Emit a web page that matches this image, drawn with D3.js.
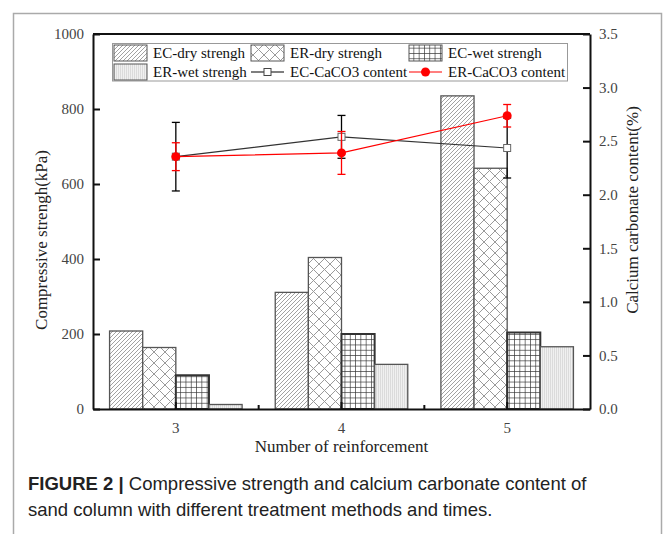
<!DOCTYPE html>
<html lang="en">
<head>
<meta charset="utf-8">
<script src="https://cdn.jsdelivr.net/npm/d3@7"></script>
<style>
  body { margin: 0; background: #fff; }
  svg { display: block; }
</style>
</head>
<body>
<script>
    // Data
    const categories = ["3", "4", "5"]
    const barSeries = ["EC-dry strengh", "ER-dry strengh", "EC-wet strengh", "ER-wet strengh"]
    const ecDry = [208, 311, 835]
    const erDry = [164, 404, 642]
    const ecWet = [90, 200, 204]
    const erWet = [12, 119, 166]
    const ecCaco3 = [2.355, 2.54, 2.436]
    const ecCaco3Err = [0.32, 0.2, 0.28]
    const erCaco3 = [2.355, 2.39, 2.737]
    const erCaco3Err = [0.13, 0.2, 0.105]
    const leftTicks = [0, 200, 400, 600, 800, 1000]
    const rightTicks = [0, 0.5, 1.0, 1.5, 2.0, 2.5, 3.0, 3.5]

    const w = 665
    const h = 534
    const plot = { left: 93, right: 590, top: 34, bottom: 409 }
    const serif = "'Liberation Serif', 'Times New Roman', serif"

    const svg = d3.select('body').append('svg')
        .attr('width', w)
        .attr('height', h)

    // patterns for the bars
    const defs = svg.append('defs')
    const diag = defs.append('pattern').attr('id', 'p-diag')
        .attr('patternUnits', 'userSpaceOnUse').attr('width', 4).attr('height', 4)
    diag.append('rect').attr('width', 4).attr('height', 4).attr('fill', '#fff')
    diag.append('path').attr('d', 'M-1,1 l2,-2 M0,4 l4,-4 M3,5 l2,-2')
        .attr('stroke', '#8a8a8a').attr('stroke-width', 0.8)

    const cross = defs.append('pattern').attr('id', 'p-cross')
        .attr('patternUnits', 'userSpaceOnUse').attr('width', 11).attr('height', 11)
    cross.append('rect').attr('width', 11).attr('height', 11).attr('fill', '#fff')
    cross.append('path').attr('d', 'M0,0 L11,11 M11,0 L0,11')
        .attr('stroke', '#9a9a9a').attr('stroke-width', 1)

    const grid = defs.append('pattern').attr('id', 'p-grid')
        .attr('patternUnits', 'userSpaceOnUse').attr('width', 5.3).attr('height', 5.3)
    grid.append('rect').attr('width', 5.3).attr('height', 5.3).attr('fill', '#fff')
    grid.append('path').attr('d', 'M0,0 V5.3 M0,0 H5.3')
        .attr('stroke', '#333').attr('stroke-width', 1.3)

    const vert = defs.append('pattern').attr('id', 'p-vert')
        .attr('patternUnits', 'userSpaceOnUse').attr('width', 2).attr('height', 2)
    vert.append('rect').attr('width', 2).attr('height', 2).attr('fill', '#f0f0f0')
    vert.append('path').attr('d', 'M0.5,0 V2')
        .attr('stroke', '#d2d2d2').attr('stroke-width', 0.7)

    const fills = ['url(#p-diag)', 'url(#p-cross)', 'url(#p-grid)', 'url(#p-vert)']
    const strokes = ['#555', '#555', '#333', '#555']
    const strokeW = [1.3, 1.3, 2, 1.3]

    // frame of the figure panel
    svg.append('path')
        .attr('d', 'M13.5,534 V13.5 H661.5 V534')
        .attr('fill', 'none').attr('stroke', '#aaa').attr('stroke-width', 1.5)

    // scales
    const x = d3.scaleBand().domain(categories).range([plot.left, plot.right])
    const xs = d3.scaleBand().domain(barSeries).range([0, x.bandwidth()]).paddingOuter(0.5)
    const yL = d3.scaleLinear().domain([0, 1000]).range([plot.bottom, plot.top])
    const yR = d3.scaleLinear().domain([0, 3.5]).range([plot.bottom, plot.top])

    // bars
    const barValues = [ecDry, erDry, ecWet, erWet]
    barSeries.forEach(function(s, si) {
        svg.append('g').selectAll('rect')
            .data(categories)
            .enter().append('rect')
            .attr('x', function(c) { return x(c) + xs(s) })
            .attr('y', function(c, i) { return yL(barValues[si][i]) })
            .attr('width', xs.bandwidth())
            .attr('height', function(c, i) { return yL(0) - yL(barValues[si][i]) })
            .attr('fill', fills[si])
            .attr('stroke', strokes[si])
            .attr('stroke-width', strokeW[si])
    })

    // axes (ticks point inward)
    const axisStyle = function(g) {
        g.selectAll('.domain').attr('stroke', '#111').attr('stroke-width', 2)
        g.selectAll('.tick line').attr('stroke', '#111').attr('stroke-width', 2)
        g.selectAll('.tick text').attr('font-family', serif).attr('font-size', 15).attr('fill', '#444')
    }

    svg.append('g')
        .attr('transform', 'translate(' + plot.left + ',0)')
        .call(d3.axisLeft(yL).tickValues(leftTicks).tickSize(-7).tickSizeOuter(0).tickPadding(9)
            .tickFormat(d3.format('d')))
        .call(axisStyle)

    svg.append('g')
        .attr('transform', 'translate(' + plot.right + ',0)')
        .call(d3.axisRight(yR).tickValues(rightTicks).tickSize(-7).tickSizeOuter(0).tickPadding(9)
            .tickFormat(d3.format('.1f')))
        .call(axisStyle)

    const xAxis = svg.append('g')
        .attr('transform', 'translate(0,' + plot.bottom + ')')
        .call(d3.axisBottom(x).tickSize(-7).tickSizeOuter(0).tickPadding(13))
        .call(axisStyle)
    // minor ticks at the band edges
    xAxis.selectAll('line.minor')
        .data(categories.slice(1))
        .enter().append('line')
        .attr('class', 'minor')
        .attr('x1', function(c) { return x(c) }).attr('x2', function(c) { return x(c) })
        .attr('y1', 0).attr('y2', -4)
        .attr('stroke', '#111').attr('stroke-width', 2)

    // top border of the plot
    svg.append('line')
        .attr('x1', plot.left).attr('x2', plot.right)
        .attr('y1', plot.top).attr('y2', plot.top)
        .attr('stroke', '#111').attr('stroke-width', 2)

    // CaCO3 lines with error bars
    const cx = function(c) { return x(c) + x.bandwidth() / 2 }
    const line = d3.line()
        .x(function(d) { return cx(d.c) })
        .y(function(d) { return yR(d.v) })

    function drawSeries(vals, errs, color, lineColor) {
        const data = categories.map(function(c, i) { return { c: c, v: vals[i], e: errs[i] } })
        const g = svg.append('g')
        g.append('path').datum(data)
            .attr('d', line).attr('fill', 'none')
            .attr('stroke', lineColor).attr('stroke-width', 1.2)
        const eb = g.selectAll('g.err').data(data).enter().append('g')
        eb.append('line')
            .attr('x1', function(d) { return cx(d.c) }).attr('x2', function(d) { return cx(d.c) })
            .attr('y1', function(d) { return yR(d.v - d.e) }).attr('y2', function(d) { return yR(d.v + d.e) })
            .attr('stroke', color).attr('stroke-width', 1.3)
        ;[-1, 1].forEach(function(sign) {
            eb.append('line')
                .attr('x1', function(d) { return cx(d.c) - 4 }).attr('x2', function(d) { return cx(d.c) + 4 })
                .attr('y1', function(d) { return yR(d.v + sign * d.e) }).attr('y2', function(d) { return yR(d.v + sign * d.e) })
                .attr('stroke', color).attr('stroke-width', 1.3)
        })
        return { g: g, data: data }
    }

    const ec = drawSeries(ecCaco3, ecCaco3Err, '#000', '#333')
    ec.g.selectAll('rect.m').data(ec.data).enter().append('rect')
        .attr('x', function(d) { return cx(d.c) - 3.5 }).attr('y', function(d) { return yR(d.v) - 3.5 })
        .attr('width', 7).attr('height', 7)
        .attr('fill', '#fff').attr('stroke', '#666').attr('stroke-width', 1)

    const er = drawSeries(erCaco3, erCaco3Err, '#f00', '#f00')
    er.g.selectAll('circle.m').data(er.data).enter().append('circle')
        .attr('cx', function(d) { return cx(d.c) }).attr('cy', function(d) { return yR(d.v) })
        .attr('r', 4.5).attr('fill', '#f00')

    // legend
    const lg = svg.append('g')
    lg.append('rect').attr('x', 112.5).attr('y', 43.5).attr('width', 455).attr('height', 37.5)
        .attr('fill', '#fff').attr('stroke', '#999').attr('stroke-width', 1)
    const legendItems = [
        { label: barSeries[0], kind: 0, x: 114, y: 53 },
        { label: barSeries[1], kind: 1, x: 251, y: 53 },
        { label: barSeries[2], kind: 2, x: 409, y: 53 },
        { label: barSeries[3], kind: 3, x: 114, y: 72 },
        { label: 'EC-CaCO3 content', kind: 'ec', x: 251, y: 72 },
        { label: 'ER-CaCO3 content', kind: 'er', x: 409, y: 72 }
    ]
    legendItems.forEach(function(it) {
        if (typeof it.kind === 'number') {
            lg.append('rect').attr('x', it.x).attr('y', it.y - 8).attr('width', 33).attr('height', 16)
                .attr('fill', fills[it.kind]).attr('stroke', '#555').attr('stroke-width', 1)
        } else {
            const col = it.kind === 'ec' ? '#000' : '#f00'
            lg.append('line').attr('x1', it.x).attr('x2', it.x + 33)
                .attr('y1', it.y).attr('y2', it.y).attr('stroke', col).attr('stroke-width', 1.2)
            if (it.kind === 'ec') {
                lg.append('rect').attr('x', it.x + 13).attr('y', it.y - 3.5).attr('width', 7).attr('height', 7)
                    .attr('fill', '#fff').attr('stroke', '#444').attr('stroke-width', 1)
            } else {
                lg.append('circle').attr('cx', it.x + 16.5).attr('cy', it.y).attr('r', 4.5).attr('fill', '#f00')
            }
        }
        lg.append('text').attr('x', it.x + 39).attr('y', it.y + 5)
            .attr('font-family', serif).attr('font-size', 15).attr('fill', '#111')
            .text(it.label)
    })

    // axis titles
    svg.append('text')
        .attr('transform', 'translate(47,240) rotate(-90)')
        .attr('text-anchor', 'middle')
        .attr('font-family', serif).attr('font-size', 17).attr('fill', '#222')
        .text('Compressive strengh(kPa)')
    svg.append('text')
        .attr('transform', 'translate(638,210) rotate(-90)')
        .attr('text-anchor', 'middle')
        .attr('font-family', serif).attr('font-size', 17).attr('fill', '#222')
        .text('Calcium carbonate content(%)')
    svg.append('text')
        .attr('x', (plot.left + plot.right) / 2).attr('y', 452)
        .attr('text-anchor', 'middle')
        .attr('font-family', serif).attr('font-size', 17).attr('fill', '#222')
        .text('Number of reinforcement')

    // caption
    const cap = svg.append('text')
        .attr('font-family', "'Liberation Sans', Arial, sans-serif").attr('font-size', 18.5).attr('fill', '#222')
    const l1 = cap.append('tspan').attr('x', 28).attr('y', 490)
    l1.append('tspan').attr('font-weight', 'bold').text('FIGURE 2 | ')
    l1.append('tspan').text('Compressive strength and calcium carbonate content of')
    cap.append('tspan').attr('x', 28).attr('y', 516)
        .text('sand column with different treatment methods and times.')
</script>
</body>
</html>
